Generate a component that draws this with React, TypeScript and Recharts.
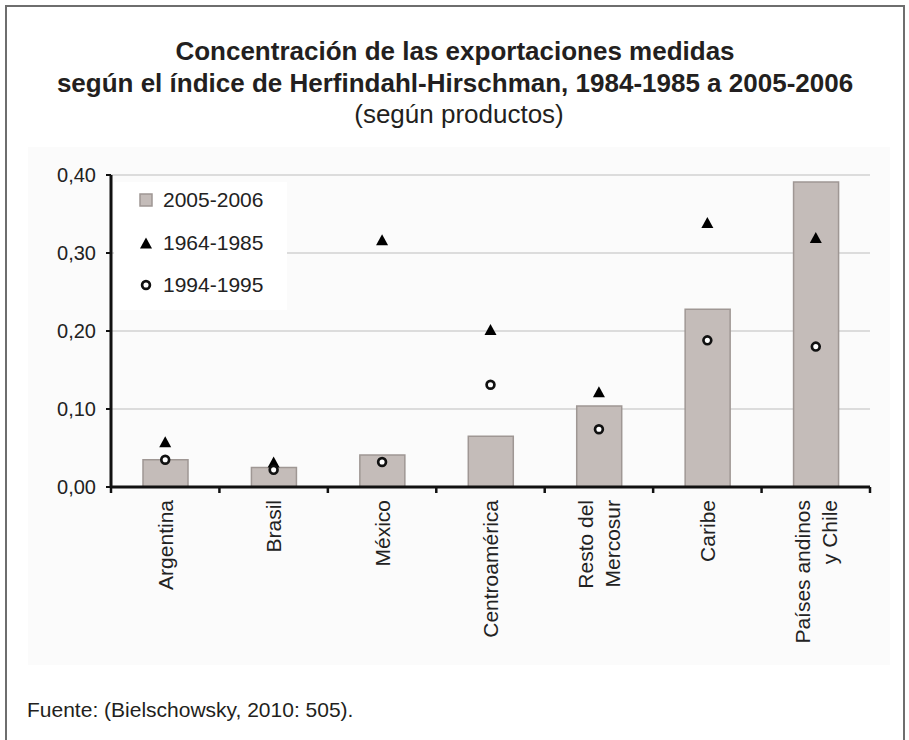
import React from 'react';
import { ComposedChart, Bar, Scatter, XAxis, YAxis, CartesianGrid, Legend } from 'recharts';

const categories = [
  'Argentina',
  'Brasil',
  'México',
  'Centroamérica',
  'Resto del\nMercosur',
  'Caribe',
  'Países andinos\ny Chile',
];
const values2005_2006 = [0.035, 0.025, 0.041, 0.065, 0.104, 0.228, 0.391];
const values1964_1985 = [0.058, 0.032, 0.317, 0.202, 0.122, 0.339, 0.32];
const values1994_1995 = [0.035, 0.022, 0.032, 0.131, 0.074, 0.188, 0.18];
const yTicks = [0, 0.1, 0.2, 0.3, 0.4];
const seriesNames = ['2005-2006', '1964-1985', '1994-1995'];
const seriesKeys = ['s2005', 's1964', 's1994'];
const titleLines = [
  'Concentración de las exportaciones medidas',
  'según el índice de Herfindahl-Hirschman, 1984-1985 a 2005-2006',
];
const subtitle = '(según productos)';
const sourceText = 'Fuente: (Bielschowsky, 2010: 505).';

const data = categories.map((c, i) => ({
  category: c,
  s2005: values2005_2006[i],
  s1964: values1964_1985[i],
  s1994: values1994_1995[i],
}));

const FONT = '"Liberation Sans", Arial, Helvetica, sans-serif';
const BAR_FILL = '#c4bcb9';
const BAR_STROKE = '#9f9794';

const XTick = (props: any) => {
  const { x, y, payload, index } = props;
  const half = payload && typeof payload.offset === 'number' ? payload.offset : 0;
  const lines = String(payload.value).split('\n');
  const lh = 27;
  const isLast = index === categories.length - 1;
  return (
    <g>
      {half > 0 && (
        <line x1={x - half} x2={x - half} y1={y} y2={y + 6} stroke="#111" strokeWidth={2.5} />
      )}
      {half > 0 && isLast && (
        <line x1={x + half} x2={x + half} y1={y} y2={y + 6} stroke="#111" strokeWidth={2.5} />
      )}
      <g transform={`translate(${x},${y + 13})`}>
        <text transform="rotate(-90)" textAnchor="end" fontSize={21} fill="#222" fontFamily={FONT}>
          {lines.map((l, i) => (
            <tspan key={i} x={0} y={(i - (lines.length - 1) / 2) * lh + 7.5}>
              {l}
            </tspan>
          ))}
        </text>
      </g>
    </g>
  );
};

const Triangle = (p: any) => {
  const { cx, cy } = p;
  if (cx == null || cy == null) return null;
  return (
    <polygon
      points={`${cx},${cy - 5.5} ${cx + 6},${cy + 5.5} ${cx - 6},${cy + 5.5}`}
      fill="#000"
    />
  );
};

const Ring = (p: any) => {
  const { cx, cy } = p;
  if (cx == null || cy == null) return null;
  return <circle cx={cx} cy={cy} r={3.9} fill="#fff" stroke="#111" strokeWidth={2.7} />;
};

const LegendIcon = ({ k }: { k: string }) => {
  if (k === 's2005')
    return (
      <svg width={14} height={14} style={{ display: 'block' }}>
        <rect x={1} y={1} width={12} height={12} fill={BAR_FILL} stroke={BAR_STROKE} strokeWidth={1.5} />
      </svg>
    );
  if (k === 's1964')
    return (
      <svg width={14} height={14} style={{ display: 'block' }}>
        <polygon points="7,1.5 13,12.5 1,12.5" fill="#000" />
      </svg>
    );
  return (
    <svg width={14} height={14} style={{ display: 'block' }}>
      <circle cx={7} cy={7} r={3.9} fill="#fff" stroke="#111" strokeWidth={2.7} />
    </svg>
  );
};

const renderLegend = (props: any) => {
  const payload = (props.payload || []).slice();
  payload.sort(
    (a: any, b: any) => seriesKeys.indexOf(String(a.dataKey)) - seriesKeys.indexOf(String(b.dataKey))
  );
  return (
    <div style={{ position: 'relative', width: 173, height: 128, background: '#fff' }}>
      {payload.map((e: any, i: number) => (
        <div
          key={i}
          style={{
            position: 'absolute',
            left: 25,
            top: 18 + i * 42.5 - 12,
            height: 24,
            display: 'flex',
            alignItems: 'center',
            fontFamily: FONT,
            fontSize: 21,
            color: '#222',
            whiteSpace: 'nowrap',
          }}
        >
          <div style={{ width: 24 }}>
            <LegendIcon k={String(e.dataKey)} />
          </div>
          <span>{e.value}</span>
        </div>
      ))}
    </div>
  );
};

export default function App() {
  return (
    <div style={{ position: 'absolute', left: 0, top: 0, width: 909, height: 740, background: '#fff' }}>
      <svg width={909} height={740} style={{ position: 'absolute', left: 0, top: 0 }}>
        <rect x={28} y={147} width={862} height={518} fill="#fbfbfb" />
        <rect x={6} y={6} width={898} height={745} fill="none" stroke="#6e6e6e" strokeWidth={2} />
        <text x={455} y={60} textAnchor="middle" fontFamily={FONT} fontWeight="bold" fontSize={26} fill="#231f20">
          {titleLines[0]}
        </text>
        <text x={455} y={92} textAnchor="middle" fontFamily={FONT} fontWeight="bold" fontSize={26} fill="#231f20">
          {titleLines[1]}
        </text>
        <text x={459} y={123} textAnchor="middle" fontFamily={FONT} fontSize={26} fill="#231f20">
          {subtitle}
        </text>
        <text x={27} y={717} fontFamily={FONT} fontSize={21} fill="#231f20">
          {sourceText}
        </text>
      </svg>
      <div style={{ position: 'absolute', left: 0, top: 0 }}>
        <ComposedChart
          width={909}
          height={740}
          data={data}
          margin={{ top: 175, right: 39, bottom: 53, left: 31 }}
          barCategoryGap={0}
        >
          <CartesianGrid vertical={false} stroke="#dcdcdc" strokeWidth={2} />
          <XAxis
            dataKey="category"
            height={200}
            interval={0}
            tickSize={0}
            tickMargin={0}
            tickLine={false}
            axisLine={{ stroke: '#111', strokeWidth: 3 }}
            tick={<XTick />}
          />
          <YAxis
            width={80}
            domain={[0, 0.4]}
            ticks={yTicks}
            tickFormatter={(v: number) => v.toFixed(2).replace('.', ',')}
            axisLine={{ stroke: '#111', strokeWidth: 3 }}
            tickLine={{ stroke: '#111', strokeWidth: 2 }}
            tickSize={5}
            tickMargin={10}
            tick={{ fontSize: 20, fill: '#222', fontFamily: FONT }}
          />
          <Legend
            layout="vertical"
            align="center"
            verticalAlign="middle"
            content={renderLegend}
            wrapperStyle={{ left: 114, top: 182, width: 173, height: 128 }}
          />
          <Bar
            dataKey="s2005"
            name={seriesNames[0]}
            fill={BAR_FILL}
            stroke={BAR_STROKE}
            strokeWidth={1.5}
            barSize={45}
            isAnimationActive={false}
          />
          <Scatter
            dataKey="s1964"
            name={seriesNames[1]}
            fill="#000"
            shape={Triangle}
            isAnimationActive={false}
          />
          <Scatter
            dataKey="s1994"
            name={seriesNames[2]}
            fill="#fff"
            shape={Ring}
            isAnimationActive={false}
          />
        </ComposedChart>
      </div>
    </div>
  );
}
